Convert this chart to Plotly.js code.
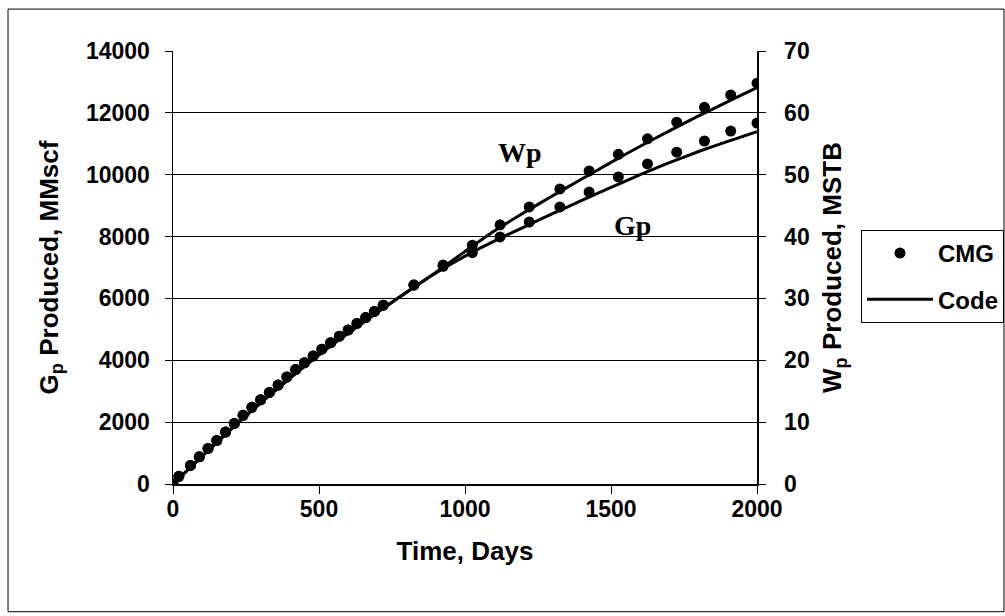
<!DOCTYPE html>
<html>
<head>
<meta charset="utf-8">
<script src="https://cdn.plot.ly/plotly-3.0.1.min.js"></script>
<style>
html,body{margin:0;padding:0;background:#fff;}
#chart{width:1005px;height:616px;}
</style>
</head>
<body>
<div id="chart"></div>
<script>
// CMG simulation output (dots)
const timeCMG = [0,20,60,90,120,150,180,210,240,270,300,330,360,390,420,450,480,510,540,570,600,630,660,690,720,825,925,1025,1120,1220,1325,1425,1525,1625,1725,1820,1910,2000];
const gpCMG = [0,250,600,880,1150,1410,1680,1960,2220,2480,2720,2960,3200,3460,3700,3920,4140,4360,4570,4780,4980,5190,5380,5580,5780,6430,7040,7480,7990,8470,8960,9440,9930,10350,10730,11090,11410,11670];
const wpCMG = [0,1.25,3.0,4.4,5.75,7.05,8.4,9.8,11.1,12.4,13.6,14.8,16.0,17.3,18.5,19.6,20.7,21.8,22.85,23.9,24.9,25.95,26.9,27.9,28.9,32.2,35.4,38.6,41.9,44.8,47.7,50.6,53.3,55.8,58.5,60.9,62.9,64.8];

// Code results (lines)
const timeCode = [0,100,200,300,400,500,600,700,800,900,1000,1100,1200,1300,1400,1500,1600,1700,1800,1900,2000];
const gpCode = [0,900,1780,2620,3420,4180,4880,5550,6200,6820,7370,7850,8300,8740,9170,9590,10000,10390,10750,11080,11390];
const wpCode = [0,4.5,8.9,13.1,17.1,20.9,24.4,27.75,31.0,34.2,37.6,40.9,43.8,46.6,49.3,52.0,54.6,57.1,59.5,61.8,64.1];

const xTicks = [0,500,1000,1500,2000];
const gpTicks = [0,2000,4000,6000,8000,10000,12000,14000];
const wpTicks = [0,10,20,30,40,50,60,70];
const seriesLabels = ['CMG','Code'];
const curveLabels = ['Wp','Gp'];

const F = 'Liberation Sans, Arial, sans-serif';
const tickFont = {family:F, size:23, color:'#000', weight:'bold'};
const titleFont = {family:F, size:26, color:'#000', weight:'bold'};
const serifFont = {family:'Liberation Serif, Times New Roman, serif', size:28, color:'#000', weight:'bold'};

const traces = [
  {x:timeCMG, y:gpCMG, yaxis:'y', mode:'markers', name:seriesLabels[0], legendgroup:'a', showlegend:true,
   marker:{color:'#000', size:11, symbol:'circle'}},
  {x:timeCMG, y:wpCMG, yaxis:'y2', mode:'markers', name:seriesLabels[0], legendgroup:'a', showlegend:false,
   marker:{color:'#000', size:11, symbol:'circle'}},
  {x:timeCode, y:gpCode, yaxis:'y', mode:'lines', name:seriesLabels[1], legendgroup:'b', showlegend:true,
   line:{color:'#000', width:3, shape:'spline', smoothing:0.6}},
  {x:timeCode, y:wpCode, yaxis:'y2', mode:'lines', name:seriesLabels[1], legendgroup:'b', showlegend:false,
   line:{color:'#000', width:3, shape:'spline', smoothing:0.6}}
];

const layout = {
  width:1005, height:616,
  margin:{l:173, r:248, t:51, b:132},
  paper_bgcolor:'#fff', plot_bgcolor:'#fff',
  showlegend:true,
  legend:{xref:'container', yref:'container', x:0.8567, y:0.6266, xanchor:'left', yanchor:'top',
          bgcolor:'#fff', bordercolor:'#000', borderwidth:1,
          font:{family:F, size:24, color:'#000', weight:'bold'}, traceorder:'grouped', tracegroupgap:12, itemwidth:66},
  xaxis:{range:[0,2000], tickvals:xTicks, ticktext:xTicks.map(String), showgrid:false, zeroline:false,
         showline:true, linecolor:'#000', linewidth:1.5, ticks:'outside', ticklen:8, tickcolor:'#000', tickwidth:1,
         tickfont:tickFont, ticklabelstandoff:-4, title:{text:'Time, Days', font:titleFont, standoff:20}},
  yaxis:{range:[0,14000], tickvals:gpTicks, ticktext:gpTicks.map(String), showgrid:true, gridcolor:'#000', gridwidth:1, zeroline:false,
         showline:true, linecolor:'#000', linewidth:1.5, ticks:'outside', ticklen:7, tickcolor:'#000', tickwidth:1,
         tickfont:tickFont, ticklabelstandoff:10,
         title:{text:'G<sub>p</sub> Produced, MMscf', font:titleFont, standoff:20}},
  yaxis2:{range:[0,70], tickvals:wpTicks, ticktext:wpTicks.map(String), overlaying:'y', side:'right', showgrid:false, zeroline:false,
          showline:true, linecolor:'#000', linewidth:1.5, ticks:'outside', ticklen:7, tickcolor:'#000', tickwidth:1,
          tickfont:tickFont, ticklabelstandoff:14,
          title:{text:'W<sub>p</sub> Produced, MSTB', font:titleFont, standoff:14}},
  annotations:[
    {x:1188, y:10710, xref:'x', yref:'y', text:curveLabels[0], showarrow:false, font:serifFont},
    {x:1575, y:8355, xref:'x', yref:'y', text:curveLabels[1], showarrow:false, font:serifFont}
  ],
  shapes:[
    {type:'rect', xref:'paper', yref:'paper', x0:-0.2825, x1:1.4229, y0:-0.2949, y1:1.0968,
     line:{color:'#000', width:1}, fillcolor:'rgba(0,0,0,0)', layer:'below'}
  ]
};

Plotly.newPlot('chart', traces, layout, {displayModeBar:false, staticPlot:true});
</script>
</body>
</html>
